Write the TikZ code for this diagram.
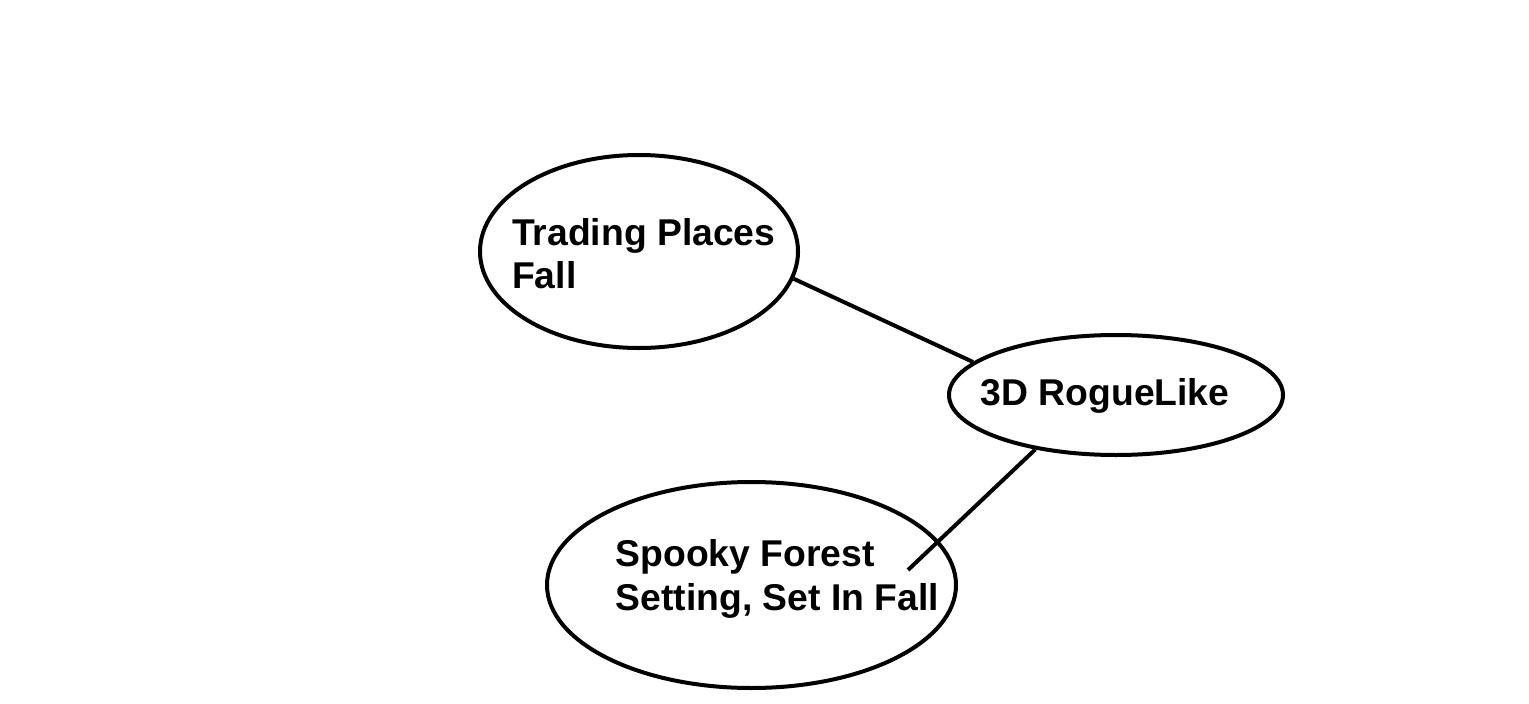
\documentclass[tikz,border=0pt]{standalone}
\usepackage{fontspec}
\setmainfont{Liberation Sans}
\usetikzlibrary{shapes.geometric}
\begin{document}
\begin{tikzpicture}[x=1pt,y=-1pt,
  bubble/.style={ellipse,draw=black,line width=4pt,inner sep=0pt,minimum width=#1},
  label/.style={anchor=base west,inner sep=0pt,font=\fontsize{37.3}{44}\selectfont\bfseries},
  link/.style={draw=black,line width=4pt}]
\useasboundingbox[fill=white] (0,0) rectangle (1529,704);
\node[bubble=318pt,minimum height=193pt] (e1) at (639,251.5) {};
\node[bubble=334pt,minimum height=120pt] (e2) at (1116,395) {};
\node[bubble=409pt,minimum height=206pt] (e3) at (751.5,585) {};
\node[label] (t1a) at (512,245) {Trading Places};
\node[label] (t1b) at (512,288) {Fall};
\node[label] (t2) at (980.5,405) {3D RogueLike};
\node[label] (t3a) at (615.5,566) {Spooky Forest};
\node[label] (t3b) at (615.5,610) {Setting, Set In Fall};
\coordinate (end2) at (908,570);
\draw[link] (e1.-10.4) -- (e2.167.8);
\draw[link] (e2.214.2) -- (end2);
\end{tikzpicture}
\end{document}
